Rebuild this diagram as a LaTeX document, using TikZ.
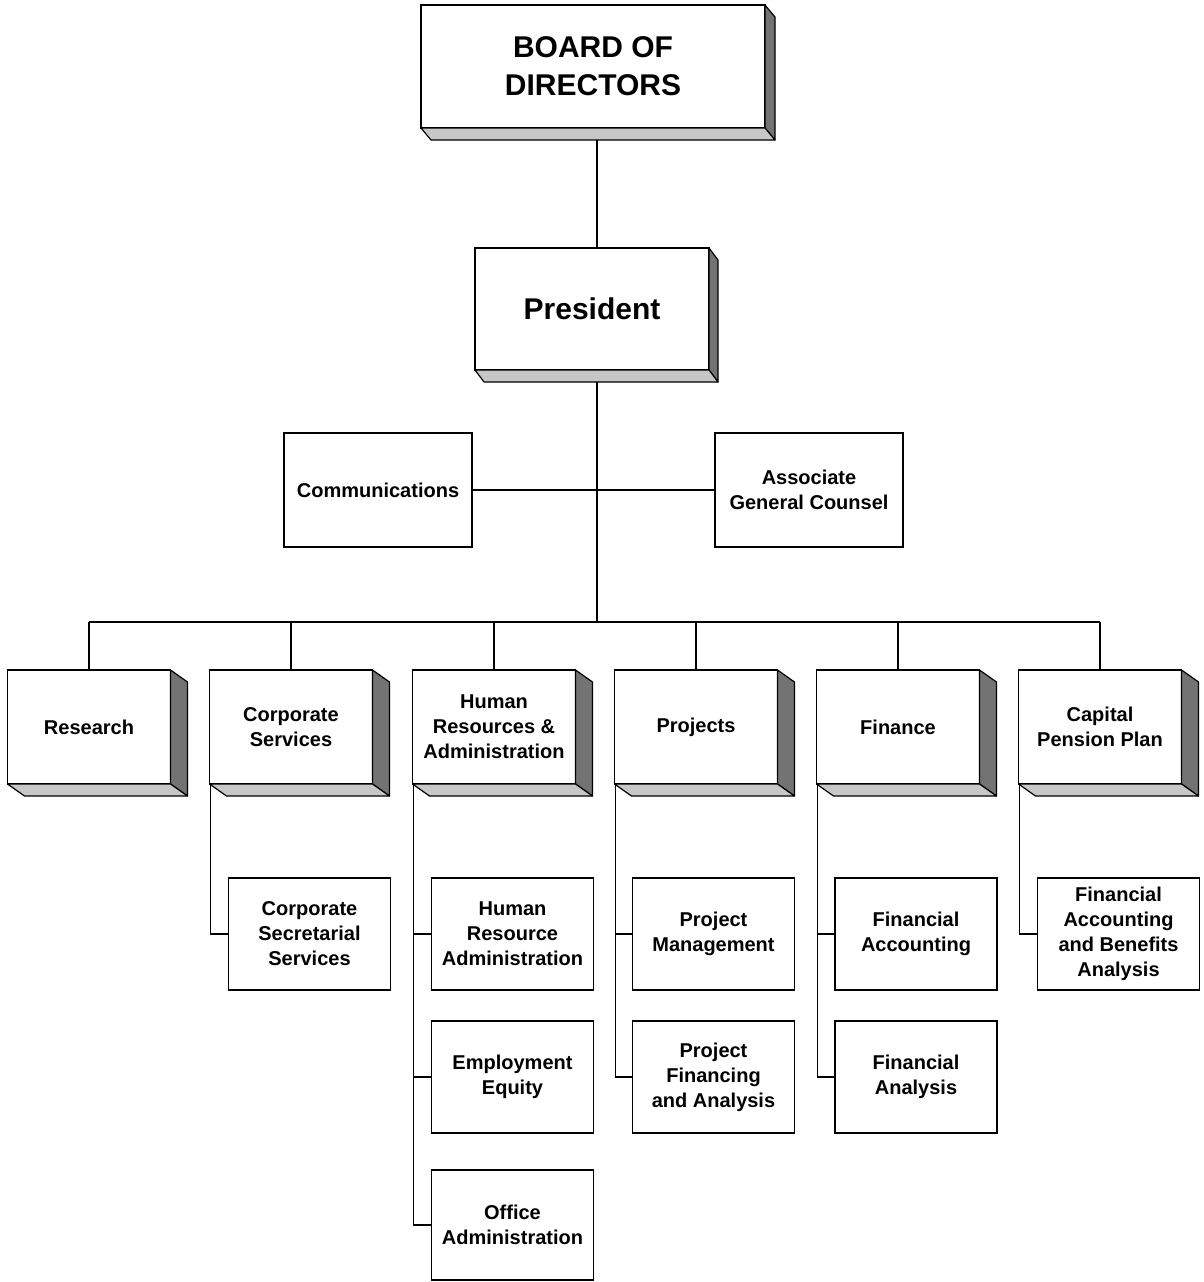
\documentclass[tikz,border=0pt]{standalone}
\usepackage{fontspec}
\setmainfont{Liberation Sans}
\tikzset{
  face/.style={draw=black, line width=1.4pt, fill=white, align=center, inner sep=0pt, outer sep=0pt,
    font=\bfseries\fontsize{20}{25}\selectfont},
  bigface/.style={face, font=\bfseries\fontsize{30}{38}\selectfont},
  sidedark/.style={draw=black, line width=1.2pt, fill=black!55, line join=round},
  sidelight/.style={draw=black, line width=1.2pt, fill=black!22, line join=round},
  conn/.style={draw=black, line width=1.4pt},
  deptbox/.style={face, minimum width=163pt, minimum height=114pt},
  subbox/.style={face, minimum width=162pt, minimum height=112pt},
}
\newcommand\extrude[3]{%
  \filldraw[sidedark] (#1.north east) -- ++(#2,#3) -- ([shift={(#2,#3)}]#1.south east) -- (#1.south east) -- cycle;
  \filldraw[sidelight] (#1.south west) -- ++(#2,#3) -- ([shift={(#2,#3)}]#1.south east) -- (#1.south east) -- cycle;
}
\begin{document}
\begin{tikzpicture}[x=1pt,y=-1pt]
\useasboundingbox (0,0) rectangle (1203,1282);
% top
\node[bigface, minimum width=344pt, minimum height=123pt] (board) at (593,66.5) {BOARD OF\\DIRECTORS};
\extrude{board}{10}{12}
\node[bigface, minimum width=234pt, minimum height=122pt] (pres) at (592,309) {President};
\extrude{pres}{9}{12}
\node[face, minimum width=188pt, minimum height=114pt] (comm) at (378,490) {Communications};
\node[face, minimum width=188pt, minimum height=114pt] (agc) at (809,490) {Associate\\General Counsel};
% departments
\node[deptbox] (res) at (89,727) {Research};
\extrude{res}{17}{12}
\node[deptbox] (corp) at (291,727) {Corporate\\Services};
\extrude{corp}{17}{12}
\node[deptbox] (hr) at (494,727) {Human\\Resources \&\\Administration};
\extrude{hr}{17}{12}
\node[deptbox] (proj) at (696,727) {Projects};
\extrude{proj}{17}{12}
\node[deptbox] (fin) at (898,727) {Finance};
\extrude{fin}{17}{12}
\node[deptbox] (cap) at (1100,727) {Capital\\Pension Plan};
\extrude{cap}{17}{12}
% sub units
\node[subbox] (css) at (309.5,934) {Corporate\\Secretarial\\Services};
\node[subbox] (hra) at (512.5,934) {Human\\Resource\\Administration};
\node[subbox] (ee) at (512.5,1077) {Employment\\Equity};
\node[subbox, minimum height=110pt] (oa) at (512.5,1225) {Office\\Administration};
\node[subbox] (pm) at (713.5,934) {Project\\Management};
\node[subbox] (pfa) at (713.5,1077) {Project\\Financing\\and Analysis};
\node[subbox] (fa) at (916,934) {Financial\\Accounting};
\node[subbox] (fan) at (916,1077) {Financial\\Analysis};
\node[subbox] (faba) at (1118.5,934) {Financial\\Accounting\\and Benefits\\Analysis};
% connectors
\coordinate (busmid) at (597,622);
\coordinate (busL) at (89,622);
\coordinate (busR) at (1100,622);
\draw[conn] ([shift={(4,12)}]board.south) -- ([xshift=5pt]pres.north);
\draw[conn] ([shift={(5,12)}]pres.south) -- (busmid);
\draw[conn] (comm.east) -- (agc.west);
\draw[conn] (busL) -- (busR);
\foreach \d in {res,corp,hr,proj,fin,cap}{
  \draw[conn] (\d.north) -- (\d.north |- busmid);
}
\draw[conn] ([xshift=1pt]corp.south west) |- (css.west);
\draw[conn] ([xshift=1pt]hr.south west) |- (hra.west);
\draw[conn] ([xshift=1pt]hr.south west) |- (ee.west);
\draw[conn] ([xshift=1pt]hr.south west) |- (oa.west);
\draw[conn] ([xshift=1pt]proj.south west) |- (pm.west);
\draw[conn] ([xshift=1pt]proj.south west) |- (pfa.west);
\draw[conn] ([xshift=1pt]fin.south west) |- (fa.west);
\draw[conn] ([xshift=1pt]fin.south west) |- (fan.west);
\draw[conn] ([xshift=1pt]cap.south west) |- (faba.west);
\end{tikzpicture}
\end{document}
